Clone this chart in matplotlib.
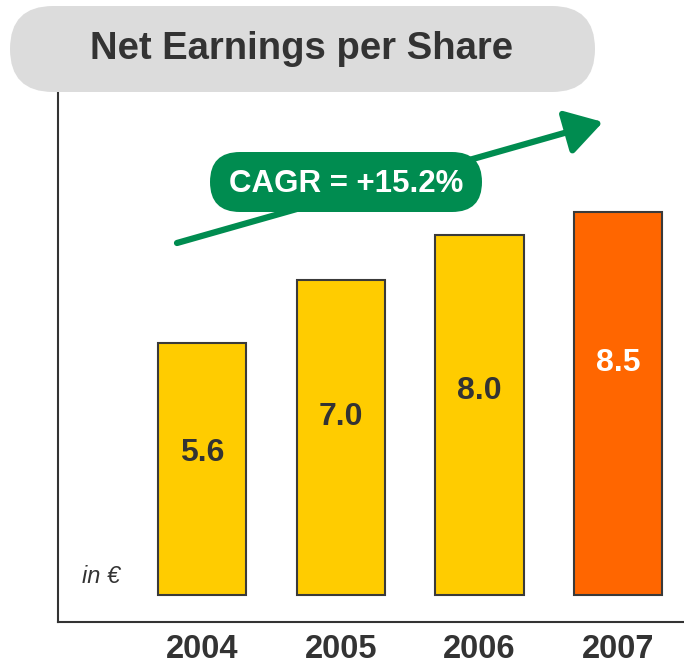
import matplotlib
matplotlib.use("Agg")
import matplotlib.pyplot as plt
from matplotlib.patches import FancyBboxPatch, FancyArrowPatch

years = ["2004", "2005", "2006", "2007"]
eps = [5.6, 7.0, 8.0, 8.5]
bar_colors = ["#FFCC00", "#FFCC00", "#FFCC00", "#FF6600"]
label_colors = ["#333333", "#333333", "#333333", "#FFFFFF"]
title = "Net Earnings per Share"
cagr_text = "CAGR = +15.2%"
unit_text = "in €"

FONT = ["Liberation Sans", "DejaVu Sans"]
plt.rcParams['font.family'] = FONT

W, H = 684, 669
fig = plt.figure(figsize=(W / 100, H / 100), dpi=100)

# main axes (pixel geometry: left 58, right 684, top 92, bottom 622)
ax = fig.add_axes([58 / W, (H - 622) / H, (684 - 58) / W, (622 - 92) / H])
x = list(range(len(years)))
ax.bar(x, eps, width=0.635, color=bar_colors, edgecolor="#3a3a3a", linewidth=1.5, zorder=2)
ax.set_xlim(-1.04, 3.475)
ax.set_ylim(-0.6, 11.17)
for s in ["top", "right"]:
    ax.spines[s].set_visible(False)
for s in ["left", "bottom"]:
    ax.spines[s].set_color("#333333")
    ax.spines[s].set_linewidth(1.5)
ax.set_yticks([])
ax.set_xticks(x)
ax.set_xticklabels(years, fontsize=23.5, fontweight="bold", color="#333333")
ax.tick_params(axis="x", length=0, pad=9)

for xi, v, c in zip(x, eps, label_colors):
    frac = 0.605 if c == "#FFFFFF" else 0.565
    ax.text(xi, v * frac, f"{v:.1f}", ha="center", va="center",
            fontsize=23, fontweight="bold", color=c)

ax.text(-0.728, 0.4, unit_text, ha="center", va="center", fontsize=17,
        style="italic", color="#333333")

# overlay for decoration in pixel coordinates
ov = fig.add_axes([0, 0, 1, 1], zorder=5)
ov.set_xlim(0, W)
ov.set_ylim(H, 0)
ov.axis("off")
ov.patch.set_alpha(0)

ov.add_patch(FancyBboxPatch((10, 6), 585, 86,
                            boxstyle="round,pad=0,rounding_size=43",
                            facecolor="#DCDCDC", edgecolor="none"))
ov.text(302, 49, title, ha="center", va="center", fontsize=27.5, fontweight="bold",
        color="#333333")

ov.add_patch(FancyArrowPatch((177, 243), (603, 122),
                             arrowstyle="-|>,head_length=1.4,head_width=0.85",
                             mutation_scale=16, color="#008C50", linewidth=4.5,
                             shrinkA=0, shrinkB=0))
ov.add_patch(FancyBboxPatch((210, 152), 272, 60,
                            boxstyle="round,pad=0,rounding_size=30",
                            facecolor="#008C50", edgecolor="none", zorder=3))
ov.text(346, 184, cagr_text, ha="center", va="center", fontsize=22.5, fontweight="bold",
        color="white", zorder=4)

fig.savefig("out.png", dpi=100)
